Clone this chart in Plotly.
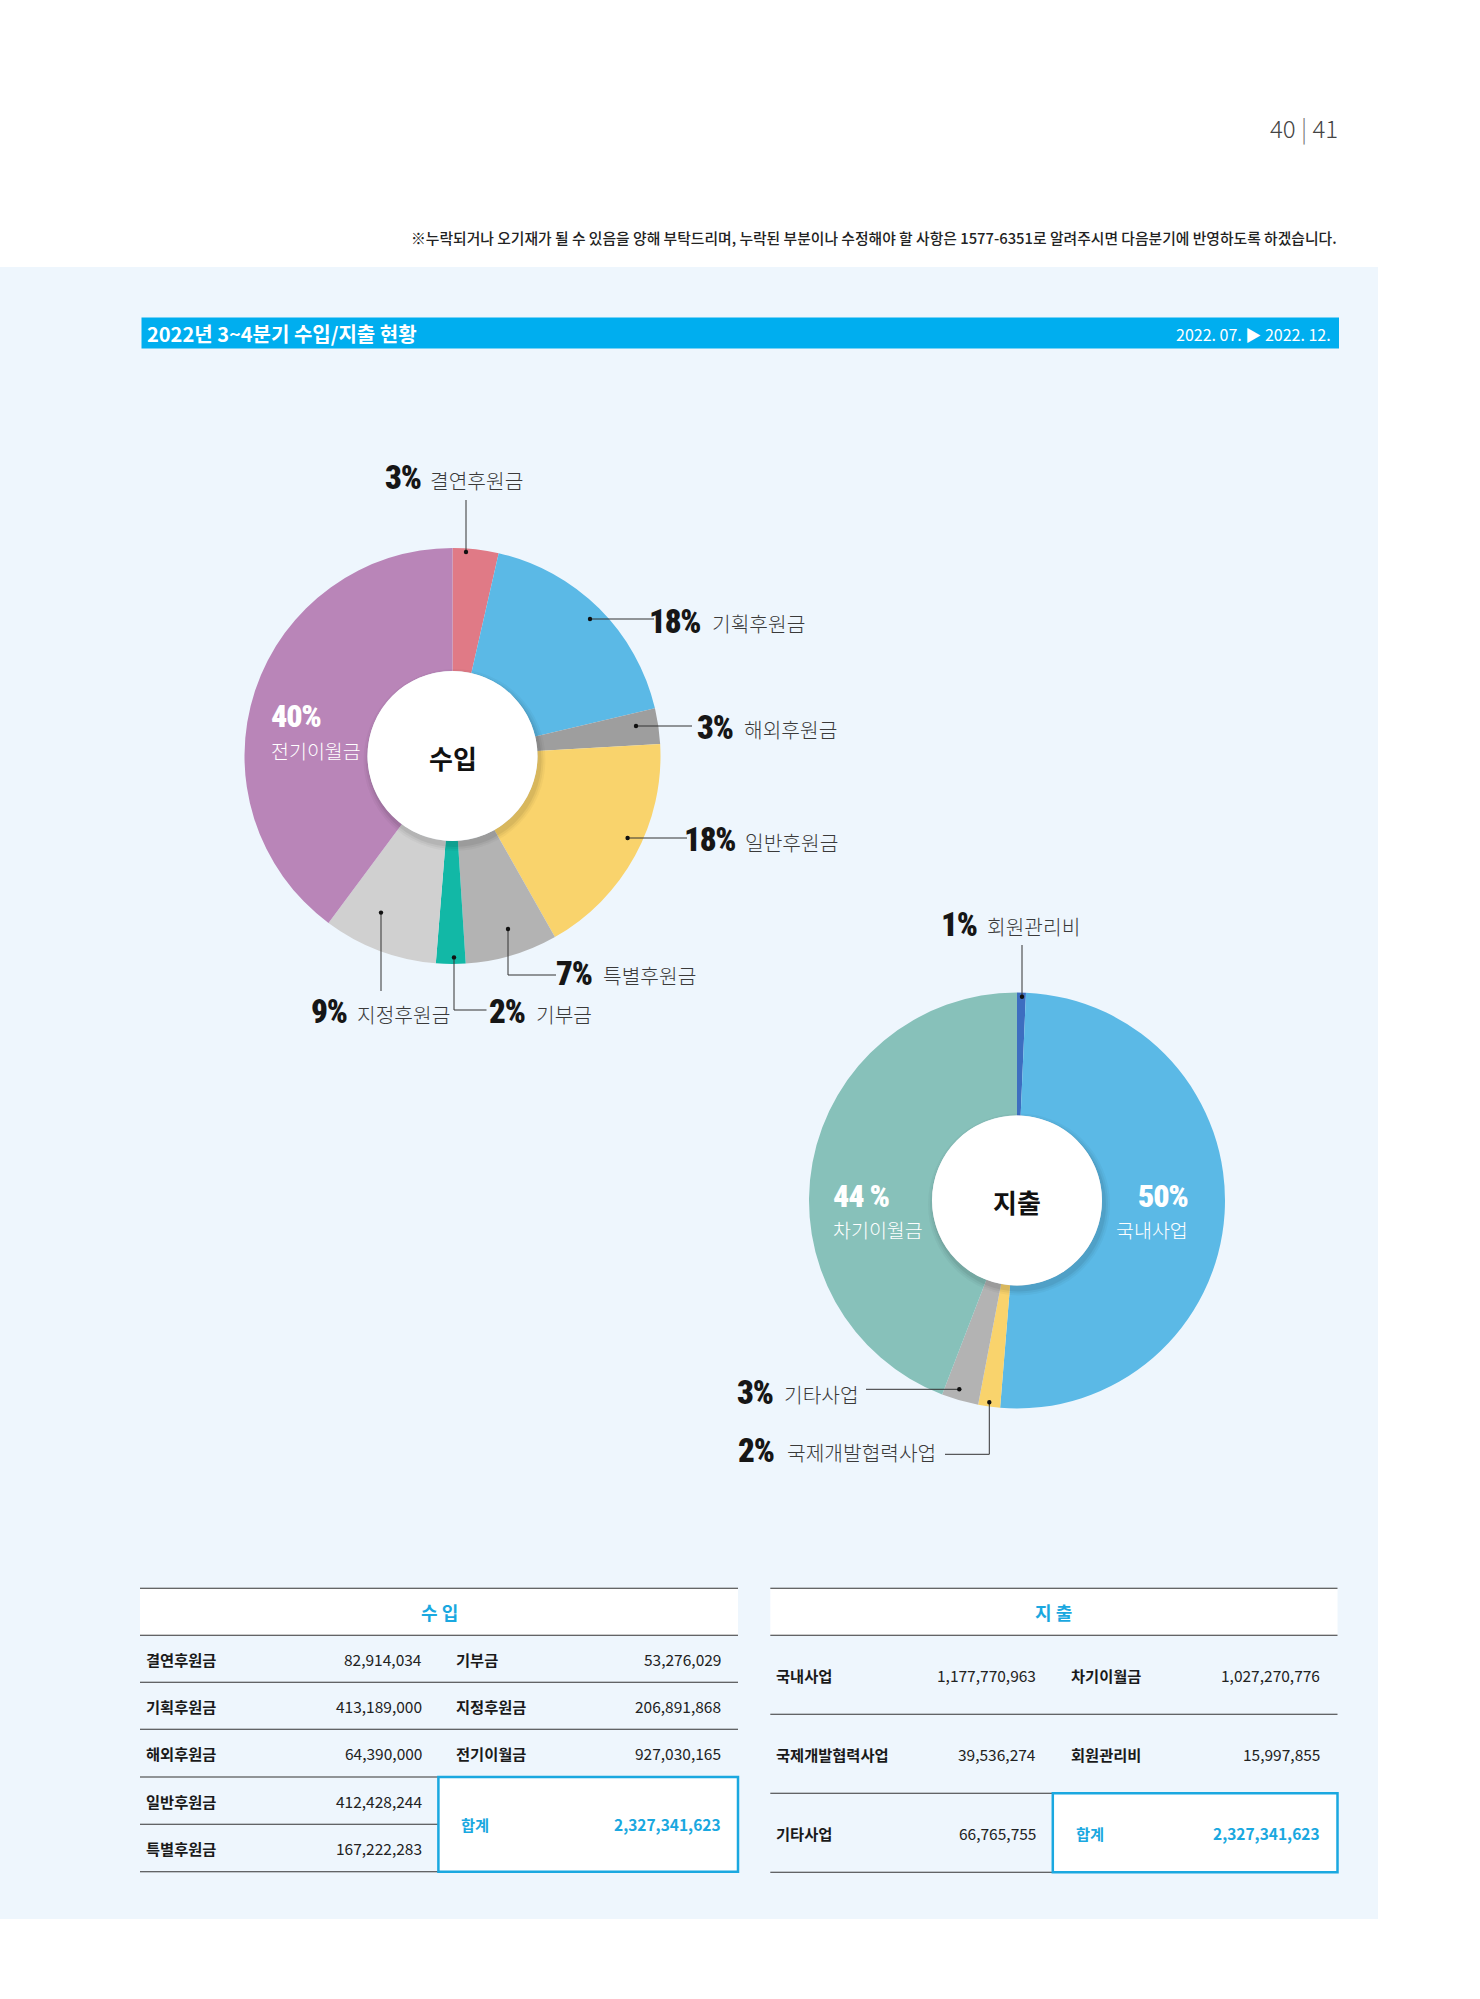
import plotly.graph_objects as go

W, H = 1480, 1999

# ---------------- data ----------------
income_labels = ["결연후원금", "기획후원금", "해외후원금", "일반후원금",
                 "특별후원금", "기부금", "지정후원금", "전기이월금"]
income_values = [82914034, 413189000, 64390000, 412428244,
                 167222283, 53276029, 206891868, 927030165]
income_pct = ["3%", "18%", "3%", "18%", "7%", "2%", "9%", "40%"]
income_colors = ["#E07A86", "#5BB9E6", "#9E9E9E", "#F9D36C",
                 "#B3B3B3", "#12B8A6", "#D0D0D0", "#B985B8"]

expense_labels = ["회원관리비", "국내사업", "국제개발협력사업", "기타사업", "차기이월금"]
expense_values = [15997855, 1177770963, 39536274, 66765755, 1027270776]
expense_pct = ["1%", "50%", "2%", "3%", "44 %"]
expense_colors = ["#3D6EC0", "#5BB9E6", "#F9D36C", "#B3B3B3", "#87C1BA"]

income_table_left = ["결연후원금", "기획후원금", "해외후원금", "일반후원금", "특별후원금"]
income_table_right = ["기부금", "지정후원금", "전기이월금"]
expense_table_left = ["국내사업", "국제개발협력사업", "기타사업"]
expense_table_right = ["차기이월금", "회원관리비"]

page_no = "40 | 41"
note_text = ("※누락되거나 오기재가 될 수 있음을 양해 부탁드리며, 누락된 부분이나 수정해야 할 사항은 "
             "1577-6351로 알려주시면 다음분기에 반영하도록 하겠습니다.")
title_text = "2022년 3~4분기 수입/지출 현황"
period_text = "2022. 07. ▶ 2022. 12."

# ---------------- styling ----------------
KR = "Noto Sans CJK KR"
PCT = "Roboto, 'Liberation Sans', sans-serif"
CYAN = "#1AA8E0"
BAR = "#00AEEF"
PANEL = "#EEF6FD"
LINE = "#333333"


def X(p):
    return p / W


def Y(p):
    return 1 - p / H


INC_C = (452.5, 756.0)
EXP_C = (1017.0, 1200.5)
R = 208.0
HOLE = 85.0


def dom(c):
    return dict(x=[X(c[0] - R), X(c[0] + R)], y=[Y(c[1] + R), Y(c[1] - R)])


fig = go.Figure()
fig.add_trace(go.Pie(labels=income_labels, values=income_values, name="수입",
                     marker=dict(colors=income_colors, line=dict(width=0)),
                     sort=False, direction="clockwise", rotation=0,
                     hole=HOLE / R, textinfo="none", domain=dom(INC_C),
                     showlegend=False))
fig.add_trace(go.Pie(labels=expense_labels, values=expense_values, name="지출",
                     marker=dict(colors=expense_colors, line=dict(width=0)),
                     sort=False, direction="clockwise", rotation=0,
                     hole=HOLE / R, textinfo="none", domain=dom(EXP_C),
                     showlegend=False))

shapes = []
ann = []


def rect(x0, y0, x1, y1, fill, layer="below", lc=None, lw=0):
    shapes.append(dict(type="rect", xref="paper", yref="paper",
                       x0=X(x0), x1=X(x1), y0=Y(y1), y1=Y(y0),
                       fillcolor=fill, layer=layer,
                       line=dict(width=lw, color=lc or fill)))


def line(x0, y0, x1, y1, color=LINE, width=1, layer="above"):
    shapes.append(dict(type="line", xref="paper", yref="paper",
                       x0=X(x0), x1=X(x1), y0=Y(y0), y1=Y(y1), layer=layer,
                       line=dict(color=color, width=width)))


def circle(cx, cy, r, fill, layer="above"):
    shapes.append(dict(type="circle", xref="paper", yref="paper",
                       x0=X(cx - r), x1=X(cx + r), y0=Y(cy + r), y1=Y(cy - r),
                       fillcolor=fill, layer=layer, line=dict(width=0)))


def text(x, y, s, size, color="#222", family=KR, xanchor="left", weight=400):
    ann.append(dict(x=X(x), y=Y(y), xref="paper", yref="paper", text=s,
                    showarrow=False, xanchor=xanchor, yanchor="middle",
                    font=dict(family=family, size=size, color=color, weight=weight)))


def pct_text(x, y, s, color="#161616", xanchor="right", size=33):
    text(x, y, '<span style="font-stretch:75%;letter-spacing:-1.2px">' + s + '</span>',
         size, color=color, family=PCT, xanchor=xanchor, weight=900)


# ---- page background elements ----
rect(0, 267, 1378, 1919, PANEL)
rect(141.5, 317.5, 1339, 348.5, BAR)
text(1340, 127, page_no.replace("|", "<span style='color:#777'>|</span>"), 24,
     color="#444", xanchor="right", weight=300)
text(1339, 237, note_text, 14.8, color="#222", xanchor="right", weight=500)
text(145, 333, title_text, 20, color="white", weight=700)
text(1333, 334, period_text, 16, color="white", xanchor="right")

# ---- donut holes (shadow + white disc) ----
for c, title in ((INC_C, "수입"), (EXP_C, "지출")):
    for dr, op in ((6, 0.03), (4, 0.045), (2, 0.06)):
        circle(c[0] + 2, c[1] + 4, HOLE + dr, "rgba(0,0,0,%.3f)" % op)
    circle(c[0], c[1], HOLE, "white")
    text(c[0], c[1] + 1, title, 26, color="#111", xanchor="center", weight=700)

# ---- callouts (leader geometry) ----
inc_callouts = {
    "결연후원금": dict(path=[(466, 552), (466, 500)], pct=(422.7, 477), lab=(428, 480)),
    "기획후원금": dict(path=[(590, 619), (654, 619)], pct=(702, 621), lab=(710, 623)),
    "해외후원금": dict(path=[(636, 726), (692, 726)], pct=(735, 727), lab=(742, 729)),
    "일반후원금": dict(path=[(627.6, 838), (687, 838)], pct=(737, 840), lab=(743, 842)),
    "특별후원금": dict(path=[(508, 929), (508, 975), (556, 975)], pct=(594, 973), lab=(601, 975)),
    "기부금": dict(path=[(454, 957.4), (454, 1010), (486.5, 1010)], pct=(527, 1012), lab=(534, 1014)),
    "지정후원금": dict(path=[(381, 912.6), (381, 991)], pct=(349, 1012), lab=(355, 1014)),
}
exp_callouts = {
    "회원관리비": dict(path=[(1022, 996.7), (1022, 945)], pct=(978.6, 924), lab=(985, 926)),
    "기타사업": dict(path=[(959.3, 1389.3), (866, 1389.3)], pct=(775, 1392.5), lab=(781.7, 1394)),
    "국제개발협력사업": dict(path=[(989.3, 1402.3), (989.3, 1454.3), (945, 1454.3)],
                       pct=(776, 1450), lab=(785, 1452)),
}

for labels, pcts, callouts in ((income_labels, income_pct, inc_callouts),
                               (expense_labels, expense_pct, exp_callouts)):
    for lab, p in zip(labels, pcts):
        if lab not in callouts:
            continue
        cfg = callouts[lab]
        pts = cfg["path"]
        for a, b in zip(pts[:-1], pts[1:]):
            line(a[0], a[1], b[0], b[1], width=1)
        circle(pts[0][0], pts[0][1], 2.2, "#111")
        pct_text(cfg["pct"][0], cfg["pct"][1], p)
        text(cfg["lab"][0], cfg["lab"][1], lab, 20.3, color="#3A3A3A", weight=300)

# labels drawn inside the large slices
inside = {
    "전기이월금": dict(x=269, y1=716, y2=750, anchor="left"),
    "국내사업": dict(x=1190, y1=1196, y2=1229, anchor="right"),
    "차기이월금": dict(x=831, y1=1196, y2=1229, anchor="left"),
}
for labels, pcts in ((income_labels, income_pct), (expense_labels, expense_pct)):
    for lab, p in zip(labels, pcts):
        if lab in inside:
            cfg = inside[lab]
            pct_text(cfg["x"], cfg["y1"], p, color="white", xanchor=cfg["anchor"], size=32)
            text(cfg["x"], cfg["y2"], lab, 19.5, color="white", xanchor=cfg["anchor"], weight=300)

# ---------------- tables ----------------
inc_map = dict(zip(income_labels, income_values))
exp_map = dict(zip(expense_labels, expense_values))
total_inc = sum(income_values)
total_exp = sum(expense_values)


def fmt(v):
    return f"{v:,}"


NAME_SZ = 15.3
NUM_SZ = 15.5

# income table
IX0, IX1, IXM = 140, 738, 438.4
inc_lines = [1588.3, 1635.3, 1682.3, 1729.3, 1777.0, 1824.3, 1871.7]
rect(IX0, inc_lines[0], IX1, inc_lines[1], "white")
text((IX0 + IX1) / 2, 1612, "수 입", 18, color=CYAN, xanchor="center", weight=700)
for i, yy in enumerate(inc_lines):
    x_end = IX1 if i < 4 else IXM
    line(IX0, yy, x_end, yy, color=LINE, width=1.1, layer="below")
rect(IXM, 1777.0, IX1, 1871.7, "white", lc=CYAN, lw=2.5)
for i, lab in enumerate(income_table_left):
    yc = (inc_lines[i + 1] + inc_lines[i + 2]) / 2
    text(143.5, yc, lab, NAME_SZ, color="#1A1A1A", weight=700)
    text(423.5, yc, fmt(inc_map[lab]), NUM_SZ, color="#222", xanchor="right")
for i, lab in enumerate(income_table_right):
    yc = (inc_lines[i + 1] + inc_lines[i + 2]) / 2
    text(454, yc, lab, NAME_SZ, color="#1A1A1A", weight=700)
    text(723, yc, fmt(inc_map[lab]), NUM_SZ, color="#222", xanchor="right")
yc = (1777.0 + 1871.7) / 2
text(459, yc, "합계", NAME_SZ, color=CYAN, weight=700)
text(723, yc, fmt(total_inc), NUM_SZ, color=CYAN, xanchor="right", weight=700)

# expense table
EX0, EX1, EXM = 770.3, 1337.5, 1052.8
exp_lines = [1588.3, 1635.3, 1714.3, 1793.3, 1872.3]
rect(EX0, exp_lines[0], EX1, exp_lines[1], "white")
text((EX0 + EX1) / 2, 1612, "지 출", 18, color=CYAN, xanchor="center", weight=700)
for i, yy in enumerate(exp_lines):
    x_end = EX1 if i < 3 else EXM
    line(EX0, yy, x_end, yy, color=LINE, width=1.1, layer="below")
rect(EXM, 1793.3, EX1, 1872.3, "white", lc=CYAN, lw=2.5)
for i, lab in enumerate(expense_table_left):
    yc = (exp_lines[i + 1] + exp_lines[i + 2]) / 2
    text(773.5, yc, lab, NAME_SZ, color="#1A1A1A", weight=700)
    text(1038, yc, fmt(exp_map[lab]), NUM_SZ, color="#222", xanchor="right")
for i, lab in enumerate(expense_table_right):
    yc = (exp_lines[i + 1] + exp_lines[i + 2]) / 2
    text(1069, yc, lab, NAME_SZ, color="#1A1A1A", weight=700)
    text(1321.5, yc, fmt(exp_map[lab]), NUM_SZ, color="#222", xanchor="right")
yc = (1793.3 + 1872.3) / 2
text(1073.5, yc, "합계", NAME_SZ, color=CYAN, weight=700)
text(1321.5, yc, fmt(total_exp), NUM_SZ, color=CYAN, xanchor="right", weight=700)

fig.update_layout(width=W, height=H, autosize=False,
                  margin=dict(l=0, r=0, t=0, b=0),
                  paper_bgcolor="white", plot_bgcolor="rgba(0,0,0,0)",
                  shapes=shapes, annotations=ann, showlegend=False,
                  font=dict(family=KR))

fig.write_html("out.html")
